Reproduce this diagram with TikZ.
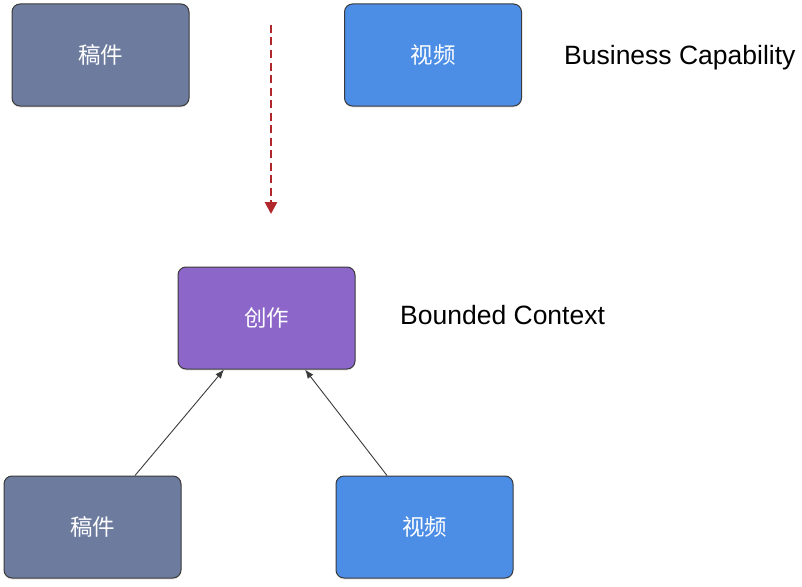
\documentclass[tikz,border=0pt]{standalone}
\usepackage{fontspec}
\setmainfont{Liberation Sans}
\newfontfamily\cjk{Noto Sans CJK SC}
\usetikzlibrary{arrows.meta,shadows}
\definecolor{slate}{HTML}{6D7B9E}
\definecolor{bluebox}{HTML}{4C8DE6}
\definecolor{purplebox}{HTML}{8C66C8}
\definecolor{darkred}{HTML}{B0282C}
\definecolor{edgegray}{HTML}{3A3A3A}
\tikzset{
  box/.style={draw=edgegray, line width=1pt, rounded corners=8pt,
    minimum width=177pt, minimum height=102pt, inner sep=0pt,
    text=white, font=\cjk\fontsize{22.5}{26}\selectfont,
    drop shadow={shadow xshift=0pt, shadow yshift=-1.5pt, opacity=0.18}},
  label/.style={font=\fontsize{26.5}{30}\selectfont, anchor=west, inner sep=0pt},
  link/.style={draw=edgegray, line width=0.9pt, -{Latex[length=9pt,width=7pt]}},
  refine/.style={draw=darkred, line width=2.7pt, dash pattern=on 8pt off 4.5pt,
    -{Triangle[length=12pt,width=12pt]}}
}
\begin{document}
\begin{tikzpicture}[x=1pt,y=-1pt]
\useasboundingbox (0,0) rectangle (802,586);
\node[box, fill=slate] (ta) at (100.5,55) {稿件};
\node[box, fill=bluebox] (tv) at (433,55) {视频};
\node[label] (bc) at (564,57.5) {Business Capability};
\coordinate (ds) at (271,25);
\coordinate (de) at (271,214);
\draw[refine] (ds) -- (de);
\node[box, fill=purplebox] (cz) at (266.5,318) {创作};
\node[label] (bdc) at (400,315.5) {Bounded Context};
\node[box, fill=slate] (ba) at (92.5,527) {稿件};
\node[box, fill=bluebox] (bv) at (424.5,527) {视频};
\draw[link] ([xshift=42.5pt]ba.north) -- ([xshift=-42.5pt]cz.south);
\draw[link] ([xshift=-37.5pt]bv.north) -- ([xshift=38.5pt]cz.south);
\end{tikzpicture}
\end{document}
